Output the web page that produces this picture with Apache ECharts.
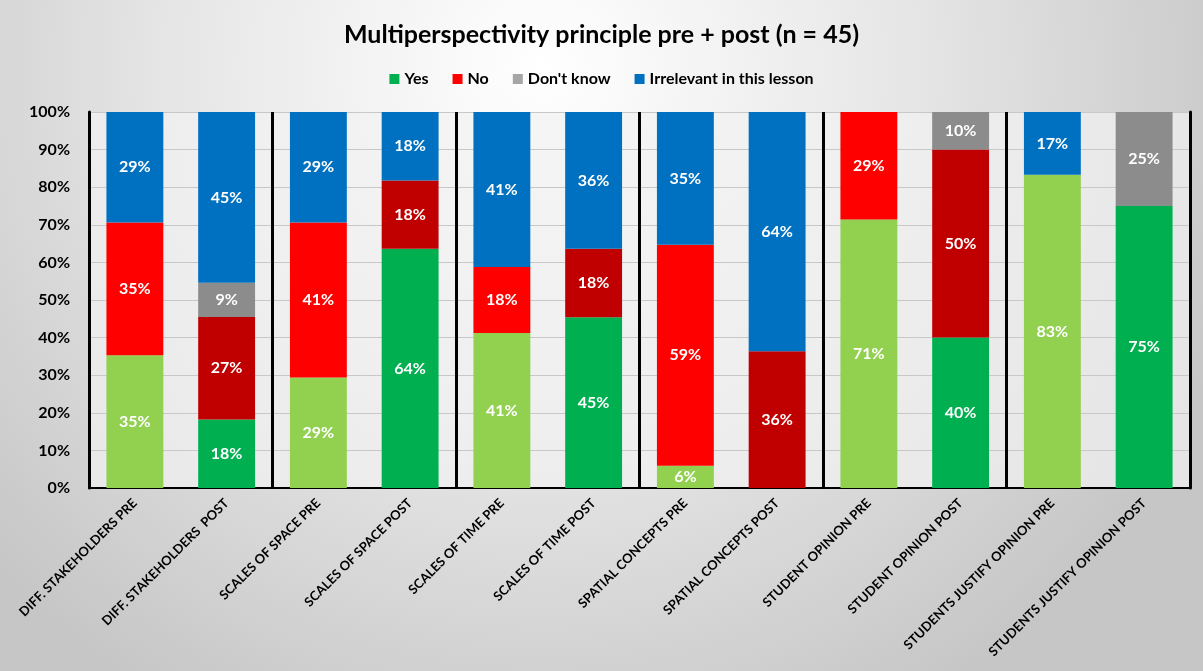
<!DOCTYPE html>
<html>
<head>
<meta charset="utf-8">
<script src="https://cdn.jsdelivr.net/npm/echarts@6/dist/echarts.min.js"></script>
<style>html,body{margin:0;padding:0;}#c{width:1203px;height:671px;}</style>
</head>
<body>
<div id="c"></div>
<script>
const categories = [
  'DIFF. STAKEHOLDERS PRE', 'DIFF. STAKEHOLDERS  POST',
  'SCALES OF SPACE PRE', 'SCALES OF SPACE POST',
  'SCALES OF TIME PRE', 'SCALES OF TIME POST',
  'SPATIAL CONCEPTS PRE', 'SPATIAL CONCEPTS POST',
  'STUDENT OPINION PRE', 'STUDENT OPINION POST',
  'STUDENTS JUSTIFY OPINION PRE', 'STUDENTS JUSTIFY OPINION POST'
];
const yesValues = [35.3, 18.2, 29.4, 63.6, 41.2, 45.4, 5.9, 0, 71.4, 40, 83.3, 75];
const noValues  = [35.3, 27.3, 41.2, 18.2, 17.6, 18.2, 58.8, 36.4, 28.6, 50, 0, 0];
const dkValues  = [0, 9.1, 0, 0, 0, 0, 0, 0, 0, 10, 0, 25];
const irrValues = [29.4, 45.4, 29.4, 18.2, 41.2, 36.4, 35.3, 63.6, 0, 0, 16.7, 0];
const yTicks = [0, 10, 20, 30, 40, 50, 60, 70, 80, 90, 100];

const FONT = 'Lato';
const preColors  = {yes: '#92d050', no: '#ff0000', dk: '#8c8c8c', irr: '#0070c0'};
const postColors = {yes: '#00b050', no: '#c00000', dk: '#8c8c8c', irr: '#0070c0'};

function mkData(vals, key) {
  return vals.map((v, i) => ({
    value: v,
    itemStyle: {color: (i % 2 === 0 ? preColors : postColors)[key]}
  }));
}
function mkSeries(name, vals, key, legendColor) {
  return {
    name: name,
    type: 'bar',
    stack: 'total',
    barWidth: '62%',
    itemStyle: {color: legendColor},
    label: {
      show: true,
      position: 'inside',
      color: '#fff',
      fontFamily: FONT,
      fontWeight: 'bold',
      fontSize: 16,
      formatter: p => p.value > 0 ? Math.round(p.value) + '%' : ''
    },
    data: mkData(vals, key)
  };
}

const chart = echarts.init(document.getElementById('c'));
chart.setOption({
  animation: false,
  backgroundColor: {
    type: 'radial', x: 0.45, y: 0.1, r: 1.1,
    colorStops: [{offset: 0, color: '#ffffff'}, {offset: 0.5, color: '#e6e6e6'}, {offset: 1, color: '#c6c6c6'}]
  },
  textStyle: {fontFamily: FONT},
  title: {
    text: 'Multiperspectivity principle pre + post (n = 45)',
    left: 'center',
    top: 17,
    textStyle: {fontFamily: FONT, fontWeight: 'bold', fontSize: 25, color: '#000'}
  },
  legend: {
    top: 66,
    left: 'center',
    itemWidth: 10,
    itemHeight: 10,
    itemGap: 24,
    icon: 'rect',
    textStyle: {fontFamily: FONT, fontWeight: 'bold', fontSize: 16, color: '#000'},
    data: ['Yes', 'No', "Don't know", 'Irrelevant in this lesson']
  },
  grid: {
    left: 89, right: 13, top: 112, bottom: 183,
    show: true, backgroundColor: 'rgba(242,242,242,0.7)', borderWidth: 0
  },
  xAxis: {
    type: 'category',
    data: categories,
    axisLine: {show: true, lineStyle: {color: '#000', width: 2}},
    axisTick: {show: false},
    splitLine: {
      show: true,
      interval: (i) => i % 2 === 0,
      lineStyle: {color: '#000', width: 3}
    },
    axisLabel: {
      interval: 0,
      rotate: 45,
      fontFamily: FONT,
      fontWeight: 'bold',
      fontSize: 13,
      color: '#000',
      margin: 13
    }
  },
  yAxis: [{
    type: 'value',
    min: 0, max: 100, interval: 10,
    axisLine: {show: true, lineStyle: {color: '#000', width: 3}},
    axisTick: {show: false},
    splitLine: {show: true, lineStyle: {color: '#c8c8c8', width: 1}},
    axisLabel: {
      formatter: v => yTicks.includes(v) ? v + '%' : '',
      fontFamily: FONT, fontWeight: 'bold', fontSize: 16, color: '#000', margin: 19
    }
  }, {
    type: 'value',
    position: 'right',
    min: 0, max: 100, interval: 10,
    axisLine: {show: true, lineStyle: {color: '#000', width: 3}},
    axisTick: {show: false},
    axisLabel: {show: false},
    splitLine: {show: false}
  }],
  series: [
    mkSeries('Yes', yesValues, 'yes', '#00b050'),
    mkSeries('No', noValues, 'no', '#ff0000'),
    mkSeries("Don't know", dkValues, 'dk', '#a6a6a6'),
    mkSeries('Irrelevant in this lesson', irrValues, 'irr', '#0070c0')
  ]
});
</script>
</body>
</html>
